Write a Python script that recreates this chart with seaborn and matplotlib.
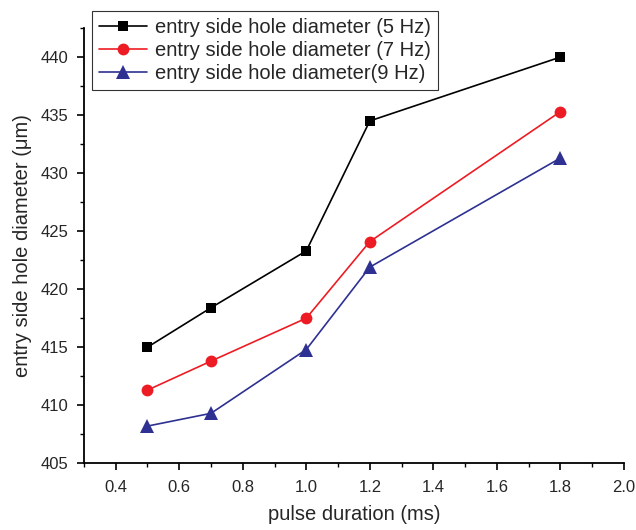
import numpy as np
import pandas as pd
import matplotlib
matplotlib.use("Agg")
import matplotlib.pyplot as plt
from matplotlib.ticker import MultipleLocator
import seaborn as sns

pulse_ms = [0.5, 0.7, 1.0, 1.2, 1.8]
dia_5hz = [415.0, 418.4, 423.3, 434.5, 440.0]
dia_7hz = [411.3, 413.8, 417.5, 424.1, 435.3]
dia_9hz = [408.2, 409.3, 414.8, 421.9, 431.3]
labels = ["entry side hole diameter (5 Hz)",
          "entry side hole diameter (7 Hz)",
          "entry side hole diameter(9 Hz)"]
xtick_vals = [0.4, 0.6, 0.8, 1.0, 1.2, 1.4, 1.6, 1.8, 2.0]

df = pd.DataFrame({
    "pulse": pulse_ms * 3,
    "dia": dia_5hz + dia_7hz + dia_9hz,
    "series": [labels[0]] * 5 + [labels[1]] * 5 + [labels[2]] * 5,
})

sns.set_style("ticks")
plt.rcParams["font.family"] = ["Liberation Sans", "DejaVu Sans"]

fig = plt.figure(figsize=(6.36, 5.30), dpi=100)
ax = fig.add_axes([0.132, 0.126, 0.849, 0.821])

palette = {labels[0]: "#000000", labels[1]: "#ed1c24", labels[2]: "#2e3192"}
markers = {labels[0]: "s", labels[1]: "o", labels[2]: "^"}
sns.lineplot(data=df, x="pulse", y="dia", hue="series", style="series",
             palette=palette, markers=markers, dashes=False,
             markersize=7.5, markeredgewidth=0, linewidth=1.2, ax=ax)

# slightly larger circles and triangles
sizes = {labels[0]: 7.5, labels[1]: 8.5, labels[2]: 9.5}
for line, lab in zip(ax.lines[:3], labels):
    line.set_markersize(sizes[lab])

ax.set_xlim(0.3, 2.0)
ax.set_ylim(405, 442.5)
ax.set_xticks(xtick_vals)
ax.set_xticklabels([f"{v:.1f}" for v in xtick_vals])
ax.xaxis.set_minor_locator(MultipleLocator(0.1))
ax.yaxis.set_major_locator(MultipleLocator(5))
ax.yaxis.set_minor_locator(MultipleLocator(2.5))
ax.tick_params(which="major", length=5, width=1.2, labelsize=12, color="black")
ax.tick_params(axis="x", which="major", pad=7)
ax.tick_params(axis="y", which="major", pad=6)
ax.tick_params(which="minor", length=3, width=1.0, color="black")
for s in ["top", "right"]:
    ax.spines[s].set_visible(False)
for s in ["left", "bottom"]:
    ax.spines[s].set_linewidth(1.3)
    ax.spines[s].set_color("black")

ax.set_xlabel("pulse duration (ms)", fontsize=14.5, labelpad=7)
ax.set_ylabel("entry side hole diameter (\u03bcm)", fontsize=14.5, labelpad=6)

leg = ax.legend(loc="upper left", bbox_to_anchor=(0.014, 1.04), fontsize=14.5,
                frameon=True, fancybox=False, borderpad=0.35, labelspacing=0.2,
                handlelength=2.4, handletextpad=0.4, borderaxespad=0.0)
leg.get_frame().set_edgecolor("black")
leg.get_frame().set_linewidth(0.8)
for h, lab in zip(leg.legend_handles, labels):
    h.set_markersize(sizes[lab])

fig.savefig("out.png", dpi=100)
